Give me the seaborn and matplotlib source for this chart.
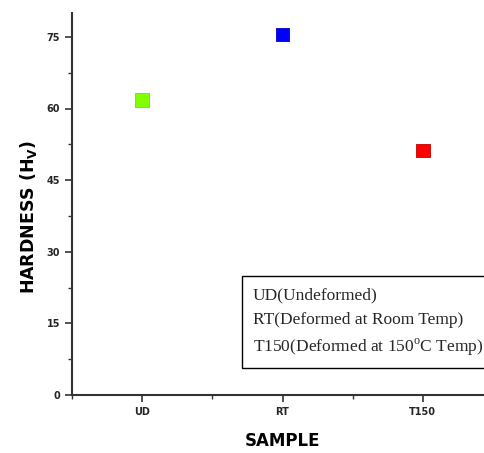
import matplotlib.pyplot as plt
import seaborn as sns
import pandas as pd
from matplotlib.lines import Line2D
from matplotlib.ticker import MultipleLocator

sns.set_theme(style="ticks")
plt.rcParams["font.family"] = ["DejaVu Sans"]
plt.rcParams["mathtext.fontset"] = "custom"
plt.rcParams["mathtext.rm"] = "Liberation Serif"
plt.rcParams["mathtext.bf"] = "DejaVu Sans:bold"

# data
samples = ["UD", "RT", "T150"]
hardness = [61.7, 75.5, 51.2]
colors = ["#80FF00", "#0000FF", "#FF0000"]
edges = ["#70E000", "#0000C0", "#C00000"]
legend_labels = [
    "UD(Undeformed)",
    "RT(Deformed at Room Temp)",
    "T150(Deformed at 150$^{\\rm o}$C Temp)",
]

df = pd.DataFrame({"Sample": samples, "Hardness": hardness, "pos": [1, 2, 3]})

fig = plt.figure(figsize=(4.84, 4.53), dpi=100)
ax = fig.add_axes([72 / 484, 58 / 453, 421 / 484, 382 / 453])

sns.scatterplot(data=df, x="pos", y="Hardness", hue="Sample",
                palette=dict(zip(samples, colors)), marker="s", s=100,
                edgecolor=edges, linewidth=0.6, legend=False, ax=ax, zorder=3)

ax.set_xlim(0.5, 3.5)
ax.set_ylim(0, 80)
ax.set_xticks([1, 2, 3])
ax.set_xticklabels(samples)
ax.xaxis.set_minor_locator(MultipleLocator(0.5))
ax.set_yticks([0, 15, 30, 45, 60, 75])
ax.yaxis.set_minor_locator(MultipleLocator(7.5))
ax.tick_params(which="major", length=5, width=1.2, labelsize=7, direction="out", color="#333333")
ax.tick_params(which="minor", length=3, width=1.0, direction="out", color="#333333")
for lab in ax.get_xticklabels() + ax.get_yticklabels():
    lab.set_fontweight("bold")

sns.despine(ax=ax)
for side in ["left", "bottom"]:
    ax.spines[side].set_linewidth(1.5)
    ax.spines[side].set_color("#333333")

ax.set_xlabel("SAMPLE", fontsize=12, fontweight="bold", labelpad=11, color="black")
ax.set_ylabel("HARDNESS (H$_\\mathbf{V}$)", fontsize=12.5, fontweight="bold", color="black")
ax.yaxis.set_label_coords(-0.078, 0.465)

handles = [Line2D([], [], linestyle="none", marker=None) for _ in legend_labels]
leg = ax.legend(handles, legend_labels, loc="lower left", bbox_to_anchor=(0.404, 0.07),
                frameon=True, fancybox=False, framealpha=1, edgecolor="black",
                handlelength=0, handletextpad=0, labelspacing=0.5, borderpad=0.6,
                borderaxespad=0, prop={"family": "Liberation Serif", "size": 12.5})
leg.get_frame().set_linewidth(1.0)

fig.savefig("out.png", dpi=100)
plt.close(fig)
